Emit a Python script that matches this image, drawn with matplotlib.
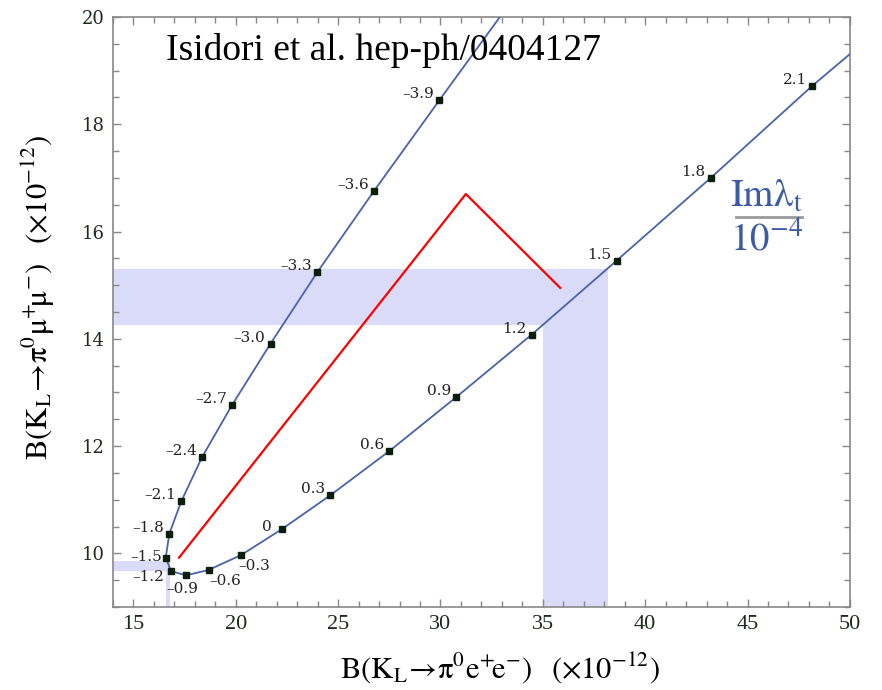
import numpy as np
import matplotlib
matplotlib.use("Agg")
import matplotlib.pyplot as plt
from matplotlib.ticker import MultipleLocator

plt.rcParams['mathtext.fontset'] = 'stix'

# Im(lambda_t)/1e-4 values marked on the curve, with the two branching ratios (x 1e-12)
lam = [-3.9, -3.6, -3.3, -3.0, -2.7, -2.4, -2.1, -1.8, -1.5, -1.2, -0.9,
       -0.6, -0.3, 0.0, 0.3, 0.6, 0.9, 1.2, 1.5, 1.8, 2.1]
b_ee = [29.95, 26.76, 23.98, 21.70, 19.81, 18.35, 17.34, 16.76, 16.58, 16.84, 17.57,
        18.67, 20.27, 22.25, 24.61, 27.51, 30.76, 34.46, 38.61, 43.20, 48.17]
b_mumu = [18.45, 16.76, 15.24, 13.91, 12.76, 11.79, 10.97, 10.37, 9.92, 9.67, 9.59,
          9.69, 9.97, 10.45, 11.08, 11.91, 12.91, 14.08, 15.46, 17.00, 18.72]
labels = ['\u20133.9', '\u20133.6', '\u20133.3', '\u20133.0', '\u20132.7', '\u20132.4',
          '\u20132.1', '\u20131.8', '\u20131.5', '\u20131.2', '\u20130.9', '\u20130.6',
          '\u20130.3', '0', '0.3', '0.6', '0.9', '1.2', '1.5', '1.8', '2.1']

# where the curve leaves the frame (top / right edge)
upper_end = (32.9, 20.0)
lower_end = (50.0, 19.31)

# shaded bands: (x0, x1, y0, y1)
bands = [(14.0, 38.17, 14.26, 15.31),
         (35.0, 38.17, 9.0, 14.26),
         (14.0, 16.77, 9.68, 9.86),
         (16.60, 16.77, 9.0, 9.68)]

# red hand-drawn line
red_x = [17.23, 31.24, 35.85]
red_y = [9.92, 16.70, 14.95]

# label placement: (ha, dx, dy) in pixels, default right/above-left
special = {'\u20131.5': ('right', -4, -3), '\u20131.2': ('right', -7, -10),
           '\u20130.9': ('center', -4, -18), '\u20130.6': ('left', 1, -15),
           '\u20130.3': ('left', -3, -15), '0': ('right', -10, -2)}

fig = plt.figure(figsize=(8.82, 6.9), dpi=100)
ax = fig.add_axes([0.128, 0.1203, 0.8356, 0.855])

for x0, x1, y0, y1 in bands:
    ax.fill_between([x0, x1], y0, y1, color='#d9dbf9', lw=0, zorder=0)

ax.plot(red_x, red_y, color='red', lw=1.6, zorder=2)

cx = [upper_end[0]] + b_ee + [lower_end[0]]
cy = [upper_end[1]] + b_mumu + [lower_end[1]]
ax.plot(cx, cy, color='#4a62ae', lw=1.3, zorder=3)
ax.plot(b_ee, b_mumu, ls='none', marker='s', ms=4, color='#0b1d0b', zorder=4)

for x, y, t in zip(b_ee, b_mumu, labels):
    ha, dx, dy = special.get(t, ('right', -5, 2))
    ax.annotate(t, (x, y), xytext=(dx, dy), textcoords='offset pixels',
                ha=ha, va='baseline', fontsize=11, family='DejaVu Serif',
                color='#222222', zorder=5)

ax.text(0.072, 0.927, 'Isidori et al. hep-ph/0404127', transform=ax.transAxes,
        fontsize=27, family='Liberation Serif', ha='left', va='baseline')

# Im(lambda_t)/10^-4 key
ax.text(0.887, 0.678, r'$\mathrm{Im\lambda_t}$', transform=ax.transAxes,
        fontsize=28, color='#3c5aa6', ha='center', va='baseline')
ax.plot([0.845, 0.935], [0.661, 0.661], transform=ax.transAxes, color='#9a9a9a', lw=2)
ax.text(0.887, 0.605, r'$\mathrm{10^{-4}}$', transform=ax.transAxes,
        fontsize=28, color='#3c5aa6', ha='center', va='baseline')

ax.set_xlim(14, 50)
ax.set_ylim(9, 20)
ax.xaxis.set_major_locator(MultipleLocator(5))
ax.xaxis.set_minor_locator(MultipleLocator(1))
ax.yaxis.set_major_locator(MultipleLocator(2))
ax.yaxis.set_minor_locator(MultipleLocator(0.5))
ax.tick_params(which='both', direction='in', top=True, right=True, color='#888888', width=1)
ax.tick_params(which='major', length=6, pad=6, labelcolor='#1c2b1c')
ax.tick_params(which='minor', length=4)
ax.tick_params(axis='x', labelsize=16, labelfontfamily='Liberation Serif')
ax.tick_params(axis='y', labelsize=13, labelfontfamily='DejaVu Serif')
for s in ax.spines.values():
    s.set_color('#888888')
    s.set_linewidth(1.2)

ax.set_xlabel(r'$\mathrm{B(K_L\!\rightarrow\!\pi^0e^{+}\!e^{-})}$  $(\times\mathrm{10^{-12}})$', fontsize=22)
ax.set_ylabel(r'$\mathrm{B(K_L\!\rightarrow\!\pi^0\mu^{+}\!\mu^{-})}$  $(\times\mathrm{10^{-12}})$', fontsize=22)
ax.xaxis.set_label_coords(0.525, -0.073)
ax.yaxis.set_label_coords(-0.076, 0.525)

fig.savefig('out.png', dpi=100)
